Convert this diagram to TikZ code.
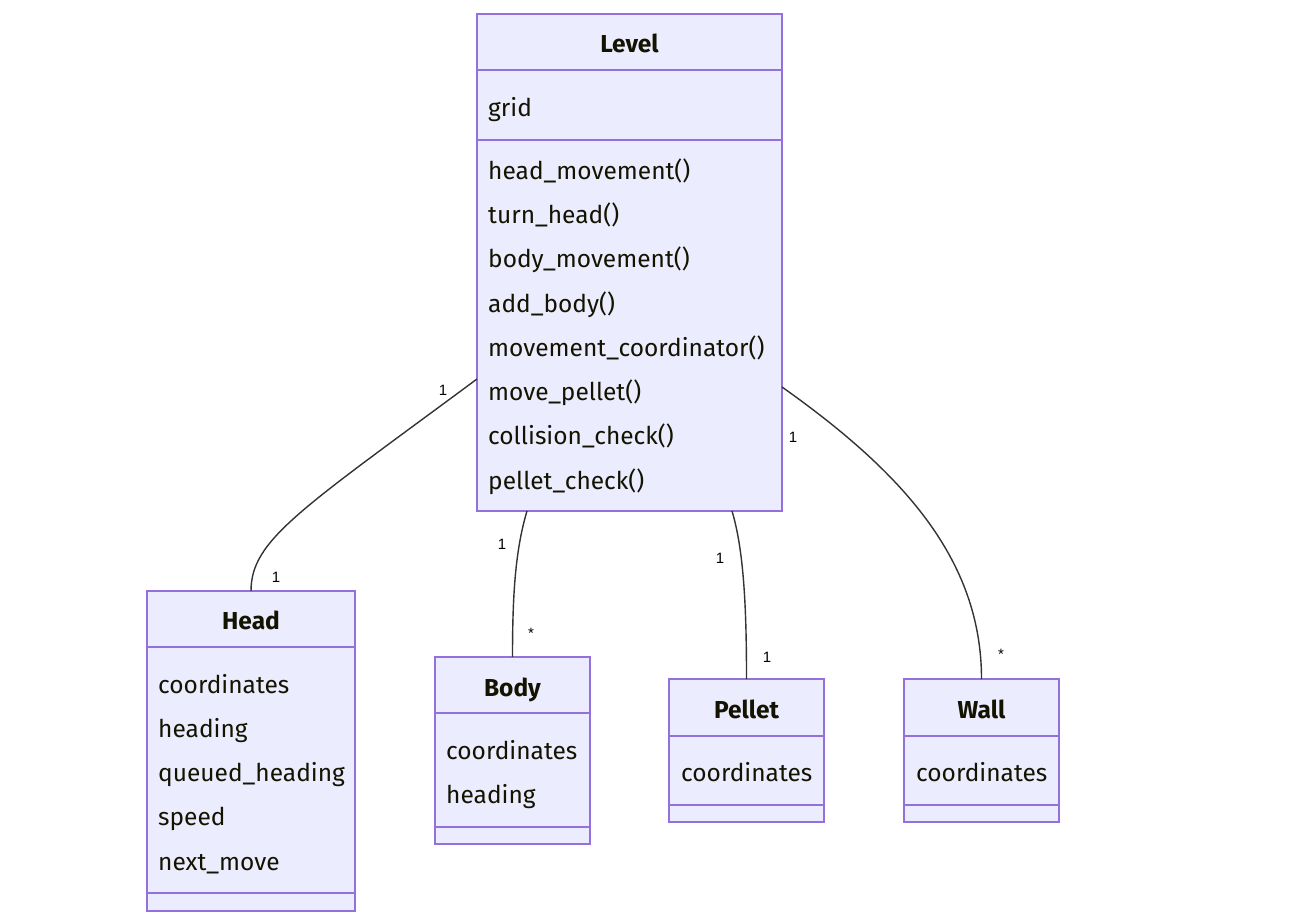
\documentclass[tikz,border=0pt]{standalone}
\usepackage{fontspec}
\setmainfont{Fira Sans}
\newfontfamily\lblfont{Liberation Sans}
\usetikzlibrary{calc}
\definecolor{boxfill}{HTML}{ECECFF}
\definecolor{boxdraw}{HTML}{9370DB}
\definecolor{edgecol}{HTML}{333333}
\definecolor{txt}{HTML}{131300}
\newcommand{\mfs}{\fontsize{24.5}{28}\selectfont}
\begin{document}
\begin{tikzpicture}[x=1pt,y=-1pt,
 classbox/.style={draw=boxdraw,fill=boxfill,line width=1.4pt,inner sep=0,outer sep=0,anchor=north west},
 divider/.style={draw=boxdraw,line width=1.4pt},
 title/.style={anchor=base,font=\mfs\bfseries,text=txt,inner sep=0},
 member/.style={anchor=base west,font=\mfs,text=txt,inner sep=0},
 mult/.style={font=\lblfont\fontsize{15}{17}\selectfont,text=black,inner sep=0},
 assoc/.style={draw=edgecol,line width=1.4pt}]
\useasboundingbox (0,0) rectangle (1305,921);

\node[classbox, minimum width=305, minimum height=497] (level) at (477,14) {};
\node[classbox, minimum width=208, minimum height=320] (head) at (147,591) {};
\node[classbox, minimum width=155, minimum height=187] (body) at (435,657) {};
\node[classbox, minimum width=155, minimum height=143] (pellet) at (669,679) {};
\node[classbox, minimum width=155, minimum height=143] (wall) at (904,679) {};

\draw[assoc] ($(level.north west)+(0,365)$) .. controls +(-177,131) and +(0,-51) .. (head.north);
\draw[assoc] ($(level.south west)+(50,0)$) .. controls +(-12,40) and +(0,-60) .. (body.north);
\draw[assoc] ($(level.south west)+(255,0)$) .. controls +(12,40) and +(0,-70) .. (pellet.north);
\draw[assoc] ($(level.north east)+(0,373)$) .. controls +(120,85) and +(0,-120) .. (wall.north);

% Level
\draw[divider] (level.west |- 0,70) -- (level.east |- 0,70);
\draw[divider] (level.west |- 0,140) -- (level.east |- 0,140);
\node[title] (levelt) at (629.5,52) {Level};
\node[member] (lv1) at (488,116) {grid};
\node[member] (lm1) at (488,179) {head\_movement()};
\node[member] (lm2) at (488,223) {turn\_head()};
\node[member] (lm3) at (488,267) {body\_movement()};
\node[member] (lm4) at (488,312) {add\_body()};
\node[member] (lm5) at (488,356) {movement\_coordinator()};
\node[member] (lm6) at (488,400) {move\_pellet()};
\node[member] (lm7) at (488,444) {collision\_check()};
\node[member] (lm8) at (488,489) {pellet\_check()};

% Head
\draw[divider] (head.west |- 0,647) -- (head.east |- 0,647);
\draw[divider] (head.west |- 0,893) -- (head.east |- 0,893);
\node[title] (headt) at (251,629) {Head};
\node[member] (h1) at (158,693) {coordinates};
\node[member] (h2) at (158,737) {heading};
\node[member] (h3) at (158,781) {queued\_heading};
\node[member] (h4) at (158,825) {speed};
\node[member] (h5) at (158,870) {next\_move};

% Body
\draw[divider] (body.west |- 0,713) -- (body.east |- 0,713);
\draw[divider] (body.west |- 0,827) -- (body.east |- 0,827);
\node[title] (bodyt) at (512.5,696) {Body};
\node[member] (b1) at (446,759) {coordinates};
\node[member] (b2) at (446,803) {heading};

% Pellet
\draw[divider] (pellet.west |- 0,736) -- (pellet.east |- 0,736);
\draw[divider] (pellet.west |- 0,805) -- (pellet.east |- 0,805);
\node[title] (pellett) at (746.5,718) {Pellet};
\node[member] (p1) at (681,781) {coordinates};

% Wall
\draw[divider] (wall.west |- 0,736) -- (wall.east |- 0,736);
\draw[divider] (wall.west |- 0,805) -- (wall.east |- 0,805);
\node[title] (wallt) at (981.5,718) {Wall};
\node[member] (w1) at (916,781) {coordinates};

% multiplicities
\node[mult] (m1) at (443,390) {1};
\node[mult] (m2) at (276,577) {1};
\node[mult] (m3) at (502,544) {1};
\node[mult] (m4) at (531,633) {*};
\node[mult] (m5) at (720,558) {1};
\node[mult] (m6) at (767,657) {1};
\node[mult] (m7) at (793,437) {1};
\node[mult] (m8) at (1001,654) {*};
\end{tikzpicture}
\end{document}
